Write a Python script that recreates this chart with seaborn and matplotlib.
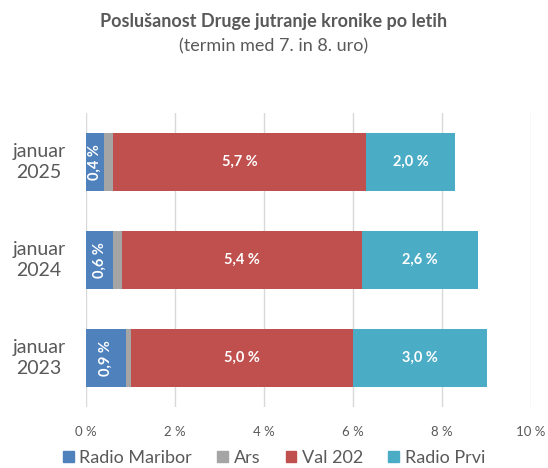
import matplotlib
matplotlib.use("Agg")
import matplotlib.pyplot as plt
import matplotlib.patches as mpatches
import matplotlib.transforms as mtransforms
import seaborn as sns
import pandas as pd
import numpy as np

# data (percent of listeners)
categories = ["januar\n2025", "januar\n2024", "januar\n2023"]
series = ["Radio Maribor", "Ars", "Val 202", "Radio Prvi"]
radio_maribor = [0.4, 0.6, 0.9]
ars = [0.2, 0.2, 0.1]
val_202 = [5.7, 5.4, 5.0]
radio_prvi = [2.0, 2.6, 3.0]
x_ticks = [0, 2, 4, 6, 8, 10]

colors = ["#4F81BD", "#A5A5A5", "#C0504D", "#4BACC6"]
text_gray = "#595959"

sns.set_theme(style="white")
plt.rcParams["font.family"] = ["Lato", "DejaVu Sans"]

values = [radio_maribor, ars, val_202, radio_prvi]
cum = np.cumsum(np.array(values), axis=0)

fig = plt.figure(figsize=(5.48, 4.68), dpi=100)
ax = fig.add_axes([86 / 548, 1 - 407 / 468, 445 / 548, 294 / 468])

# draw stacked bars by layering cumulative totals, widest first
for i in reversed(range(len(series))):
    df = pd.DataFrame({"Kategorija": categories, "Vrednost": cum[i]})
    sns.barplot(data=df, x="Vrednost", y="Kategorija", color=colors[i],
                width=0.6, saturation=1, ax=ax, zorder=3, linewidth=0)

# value labels
for i, name in enumerate(series):
    if name == "Ars":
        continue
    for j in range(len(categories)):
        v = values[i][j]
        left = cum[i][j] - v
        label = f"{v:.1f} %".replace(".", ",")
        rot = 90 if name == "Radio Maribor" else 0
        ax.text(left + v / 2, j, label, ha="center", va="center",
                color="white", fontsize=10.5, fontweight="bold", rotation=rot,
                zorder=5)

ax.set_xlim(0, 10)
ax.set_ylim(2.5, -0.5)
ax.set_xticks(x_ticks)
ax.set_xticklabels([f"{t} %" for t in x_ticks])
ax.tick_params(axis="x", labelsize=9.5, colors=text_gray, length=0, pad=14)
ax.set_yticklabels([])
ax.tick_params(axis="y", length=0)
ax.set_xlabel("")
ax.set_ylabel("")
ax.grid(axis="x", color="#D9D9D9", linewidth=1, zorder=0)
for s in ax.spines.values():
    s.set_visible(False)

# centred category labels
trans = mtransforms.blended_transform_factory(fig.transFigure, ax.transData)
for j, cat in enumerate(categories):
    ax.text(39 / 548, j, cat, transform=trans, ha="center", va="center",
            multialignment="center", fontsize=14, color=text_gray,
            linespacing=1.25)

fig.text(0.5, 1 - 22 / 468, "Poslušanost Druge jutranje kronike po letih",
         ha="center", va="center", fontsize=13, fontweight="bold", color=text_gray)
fig.text(0.5, 1 - 46 / 468, "(termin med 7. in 8. uro)",
         ha="center", va="center", fontsize=13, color=text_gray)

handles = [mpatches.Patch(color=c, label=n) for c, n in zip(colors, series)]
fig.legend(handles=handles, loc="center", bbox_to_anchor=(0.5, 1 - 458 / 468),
           ncol=4, frameon=False, fontsize=13, handlelength=0.6,
           handleheight=0.6, handletextpad=0.3, columnspacing=1.4,
           labelcolor=text_gray)

fig.savefig("out.png", dpi=100)
